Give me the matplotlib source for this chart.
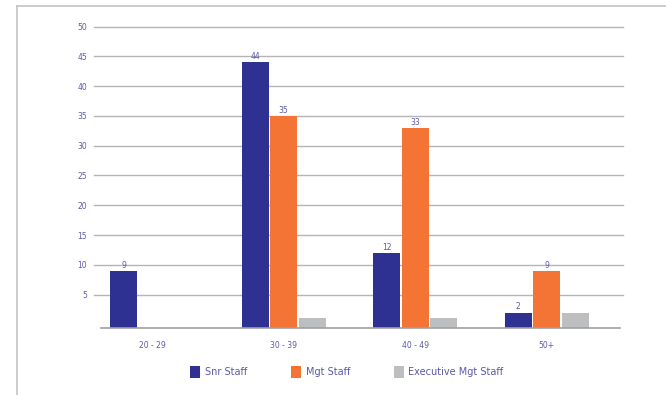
import matplotlib.pyplot as plt
from matplotlib.lines import Line2D
from matplotlib.patches import Patch
import numpy as np

# data
age_groups = ['20 - 29', '30 - 39', '40 - 49', '50+']
snr_staff = [9, 44, 12, 2]
mgt_staff = [0, 35, 33, 9]
exec_staff = [0, 1, 1, 2]
series_names = ['Snr Staff', 'Mgt Staff', 'Executive Mgt Staff']
y_ticks = [5, 10, 15, 20, 25, 30, 35, 40, 45, 50]

colors = ['#2e3192', '#f37435', '#bcbec0']
text_color = '#5a5aa8'
base = 0.6  # axis line sits a little under zero

fig = plt.figure(figsize=(6.66, 3.95), dpi=100)
ax = fig.add_axes([101 / 666, 1 - 328 / 395, 519 / 666, (328 - 26.5) / 395])

x = np.arange(len(age_groups))
w = 0.205
for i, (vals, c) in enumerate(zip([snr_staff, mgt_staff, exec_staff], colors)):
    vals = np.array(vals, dtype=float)
    pos = x + (i - 1) * (w + 0.012)
    keep = vals > 0
    ax.bar(pos[keep], vals[keep] + base, bottom=-base, width=w, color=c,
           zorder=3)
    if i < 2:
        for px, v in zip(pos[keep], vals[keep]):
            ax.text(px, v + 0.2, f'{v:.0f}', ha='center', va='bottom',
                    fontsize=5.5, color=text_color)

ax.set_xlim(-0.391, 3.559)
ax.set_ylim(-base, 50)

# gridlines run a bit wider than the axis
for t in y_ticks:
    ax.axhline(t, xmin=-0.0135, xmax=1.006, color='#b4b4b4', lw=1,
               clip_on=False, zorder=1)
ax.axhline(-base, xmin=0, xmax=1, color='#a0a0a0', lw=1.2, clip_on=False,
           zorder=4)

ax.set_yticks(y_ticks)
ax.set_yticklabels([str(t) for t in y_ticks], fontsize=5.5, color=text_color)
ax.set_xticks(x)
ax.set_xticklabels(age_groups, fontsize=5.5, color=text_color)
ax.tick_params(axis='y', length=0, pad=10)
ax.tick_params(axis='x', length=0, pad=9)
for s in ax.spines.values():
    s.set_visible(False)

handles = [Patch(facecolor=c, edgecolor='none') for c in colors]
fig.legend(handles, series_names, loc='center', bbox_to_anchor=(347 / 666, 1 - 372 / 395),
           ncol=3, frameon=False, fontsize=7, labelcolor=text_color,
           handlelength=1.0, handleheight=1.4, handletextpad=0.5, columnspacing=4.5)

# page frame
fig.add_artist(Line2D([17 / 666, 1], [1 - 6 / 395] * 2, color='#c4c4c4', lw=1.2,
                      transform=fig.transFigure))
fig.add_artist(Line2D([17 / 666] * 2, [0, 1 - 6 / 395], color='#c4c4c4', lw=1.2,
                      transform=fig.transFigure))

fig.savefig('out.png', dpi=100)
